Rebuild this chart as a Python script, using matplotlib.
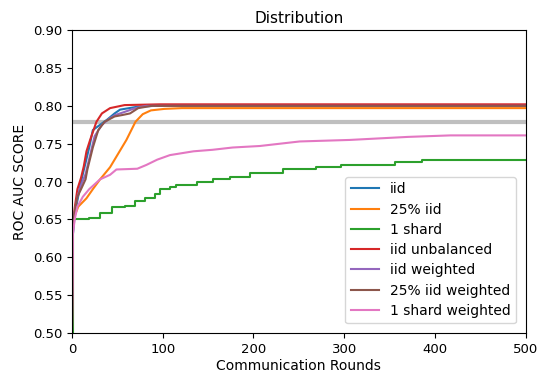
import matplotlib
matplotlib.use("Agg")
import matplotlib.pyplot as plt

# values (round, best ROC AUC so far)
IID_X = [0, 1, 3, 6, 10, 15, 19, 23, 31, 39, 47, 53, 63, 73, 92, 500]
IID_Y = [0.50, 0.63, 0.655, 0.675, 0.70, 0.725, 0.745, 0.768, 0.775, 0.782, 0.79, 0.795, 0.797, 0.799, 0.800, 0.800]

Q_IID_X = [0, 1, 3, 7, 16, 23, 31, 42, 51, 60, 70, 78, 87, 102, 121, 500]
Q_IID_Y = [0.50, 0.645, 0.655, 0.667, 0.678, 0.69, 0.703, 0.719, 0.737, 0.755, 0.779, 0.789, 0.794, 0.796, 0.797, 0.797]

SHARD_X = [0, 1, 19, 31, 44, 58, 70, 80, 91, 97, 108, 115, 138, 155, 174, 196, 233, 269, 296, 356, 386, 500]
SHARD_Y = [0.50, 0.65, 0.652, 0.658, 0.667, 0.668, 0.674, 0.679, 0.683, 0.69, 0.693, 0.695, 0.70, 0.703,
           0.706, 0.712, 0.716, 0.719, 0.722, 0.726, 0.728, 0.728]

UNBAL_X = [0, 1, 3, 6, 10, 13, 16, 20, 27, 33, 42, 58, 97, 500]
UNBAL_Y = [0.50, 0.64, 0.665, 0.69, 0.705, 0.72, 0.74, 0.755, 0.779, 0.79, 0.797, 0.801, 0.802, 0.802]

W_IID_X = [0, 1, 3, 6, 10, 15, 19, 25, 33, 41, 48, 58, 70, 82, 500]
W_IID_Y = [0.50, 0.64, 0.66, 0.68, 0.695, 0.71, 0.73, 0.76, 0.775, 0.783, 0.788, 0.792, 0.797, 0.800, 0.800]

W_Q_IID_X = [0, 1, 3, 6, 10, 15, 17, 23, 29, 36, 47, 56, 64, 73, 88, 500]
W_Q_IID_Y = [0.50, 0.64, 0.66, 0.68, 0.69, 0.703, 0.716, 0.745, 0.768, 0.779, 0.786, 0.788, 0.79, 0.797, 0.800, 0.800]

W_SHARD_X = [0, 1, 3, 6, 12, 19, 31, 42, 49, 72, 82, 94, 108, 134, 155, 177, 207, 251, 306, 370, 417, 500]
W_SHARD_Y = [0.50, 0.63, 0.65, 0.667, 0.68, 0.69, 0.703, 0.709, 0.716, 0.717, 0.722, 0.729, 0.735, 0.74,
             0.742, 0.745, 0.747, 0.753, 0.755, 0.759, 0.761, 0.761]

BASELINE = 0.779

fig = plt.figure(figsize=(5.37, 3.76), dpi=100)
ax = fig.add_axes([0.134, 0.114, 0.845, 0.806])
ax.axhline(BASELINE, color="gray", lw=3, alpha=0.5)
ax.plot(IID_X, IID_Y, label="iid")
ax.plot(Q_IID_X, Q_IID_Y, label="25% iid")
ax.plot(SHARD_X, SHARD_Y, label="1 shard", drawstyle="steps-post")
ax.plot(UNBAL_X, UNBAL_Y, label="iid unbalanced")
ax.plot(W_IID_X, W_IID_Y, label="iid weighted")
ax.plot(W_Q_IID_X, W_Q_IID_Y, label="25% iid weighted")
ax.plot(W_SHARD_X, W_SHARD_Y, label="1 shard weighted")

ax.set_xlim(0, 500)
ax.set_ylim(0.5, 0.9)
ax.set_xticks([0, 100, 200, 300, 400, 500])
ax.set_yticks([0.5, 0.55, 0.6, 0.65, 0.7, 0.75, 0.8, 0.85, 0.9])
ax.set_yticklabels(["%.2f" % v for v in ax.get_yticks()])
ax.tick_params(labelsize=9.5)
ax.set_xlabel("Communication Rounds", fontsize=10, labelpad=2)
ax.set_ylabel("ROC AUC SCORE", fontsize=10)
ax.set_title("Distribution", fontsize=11, pad=5)
ax.legend(loc="lower right", fontsize=10, handlelength=2, borderpad=0.4, labelspacing=0.45,
          borderaxespad=0.7)

fig.savefig("out.png", dpi=100)
